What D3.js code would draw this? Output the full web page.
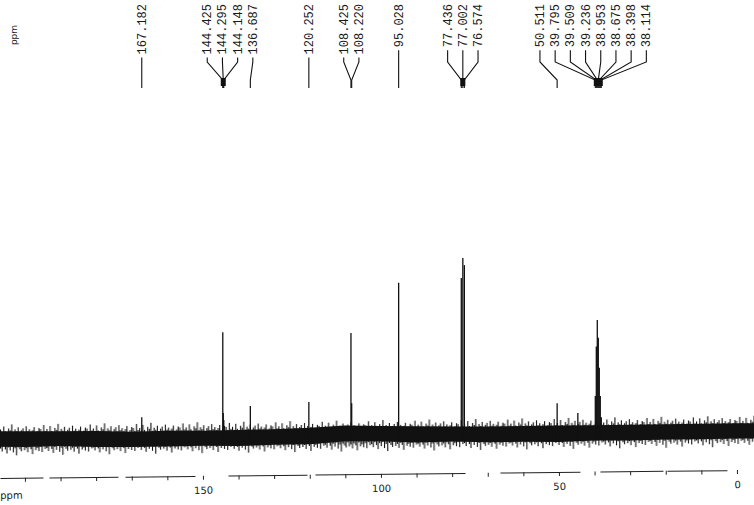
<!DOCTYPE html>
<html>
<head>
<meta charset="utf-8">
<script src="https://cdn.jsdelivr.net/npm/d3@7"></script>
<style>
  body { margin: 0; background: #fff; }
  .peaklabel { font-family: "Liberation Mono", monospace; font-size: 12px; fill: #1a1a1a; }
  .tick text, .unit { font-family: "DejaVu Sans", sans-serif; font-size: 10px; fill: #222; }
</style>
</head>
<body>
<svg id="spec" width="754" height="505"></svg>
<script>
// labelled peaks (ppm, height relative to tallest = 100)
const peakPpm    = [167.182, 144.425, 144.295, 144.148, 136.687, 120.252, 108.425, 108.220, 95.028,
                    77.436, 77.002, 76.574, 50.511, 39.795, 39.509, 39.236, 38.953, 38.675, 38.398, 38.114];
const peakHeight = [10, 58, 12.5, 8.5, 16.4, 18.6, 57.6, 18, 86,
                    88.7, 100, 96, 18, 22, 50, 65, 55, 38, 22, 10];
const peakLabel  = ["167.182", "144.425", "144.295", "144.148", "136.687", "120.252", "108.425", "108.220", "95.028",
                    "77.436", "77.002", "76.574", "50.511", "39.795", "39.509", "39.236", "38.953", "38.675", "38.398", "38.114"];

// small peak without a label
const extraPpm = [44.7];
const extraHeight = [12.4];

// baseline noise band read every 10 ppm
const noisePpm  = [210, 200, 190, 180, 170, 160, 150, 140, 130, 120, 110, 100, 90, 80, 70, 60, 50, 40, 30, 20, 10, 0, -10];
const noiseBase = [-2, -2, -1.8, -2, -2.2, -1.8, -1.6, -1.4, -0.9, -0.3, 1.2, 1.0, 0.6, 0.8, 0.6, 0.9, 1.0, 1.5, 1.6, 2.0, 2.2, 2.6, 2.6];
const noiseAmp  = [7.5, 7.6, 7.2, 7.8, 7.4, 7.6, 7.3, 7.8, 7.5, 7.9, 7.6, 7.4, 7.8, 7.2, 7.6, 7.5, 7.9, 7.4, 7.6, 7.3, 7.5, 7.4, 7.4];

// axis
const tickValues = d3.range(200, -1, -10);
const labelTicks = [150, 100, 50, 0];

const width = 754, height = 505;
const svg = d3.select("#spec");

const x = d3.scaleLinear().domain([207.0, -4.78]).range([0, width]);
const y = d3.scaleLinear().domain([0, 100]).range([435, 258]);

const noise = noisePpm.map((p, i) => ({ p: p, b: noiseBase[i], a: noiseAmp[i] }));

// grass texture for the ragged edge of the noise band (tile centred on the baseline)
const grassUp   = [10, 7, 13, 8, 6, 11, 9, 15, 7, 10, 8, 12, 6, 9, 11, 7, 13, 8, 10, 7, 9, 12, 6, 8, 11, 10, 7, 14, 8];
const grassDown = [9, 12, 7, 10, 14, 8, 11, 7, 13, 9, 16, 8, 10, 12, 7, 11, 9, 13, 8, 10, 15, 7, 11, 9, 12, 8, 13, 7, 10];
const step = 1.6, tileH = 40, mid = 20;
const y0px = y(noiseBase[0]) + 1, y1px = y(noiseBase[noiseBase.length - 1]);
const skew = Math.atan((y1px - y0px) / (x(noisePpm[noisePpm.length - 1]) - x(noisePpm[0]))) * 180 / Math.PI;

const defs = svg.append("defs");
const pat = defs.append("pattern")
    .attr("id", "grass")
    .attr("patternUnits", "userSpaceOnUse")
    .attr("width", grassUp.length * step).attr("height", tileH)
    .attr("patternTransform", `translate(0,${y0px - mid}) skewY(${skew})`);
pat.selectAll("rect")
  .data(grassUp)
  .join("rect")
    .attr("x", (d, i) => i * step)
    .attr("y", (d, i) => mid - d)
    .attr("width", 1.1)
    .attr("height", (d, i) => d + grassDown[i])
    .attr("fill", "#111");

const outer = d3.area()
    .x(d => x(d.p))
    .y0(d => y(d.b - 12))
    .y1(d => y(d.b + 12));
const core = d3.area()
    .x(d => x(d.p))
    .y0(d => y(d.b - d.a * 0.62))
    .y1(d => y(d.b + d.a * 0.55));

svg.append("path").datum(noise).attr("d", outer).attr("fill", "url(#grass)");
svg.append("path").datum(noise).attr("d", core).attr("fill", "#111");

// peaks
const peaks = peakPpm.map((p, i) => ({ p: p, h: peakHeight[i], label: peakLabel[i] }));
const allSticks = peaks.concat(extraPpm.map((p, i) => ({ p: p, h: extraHeight[i] })));

svg.append("g").selectAll("line")
  .data(allSticks)
  .join("line")
    .attr("x1", d => x(d.p)).attr("x2", d => x(d.p))
    .attr("y1", y(-2))
    .attr("y2", d => y(d.h))
    .attr("stroke", "#111")
    .attr("stroke-width", 1.3);

// label placement: spread labels so they don't overlap
const gap = 15.2;
let clusters = peaks.map((d, i) => ({ idx: [i], target: x(d.p) }))
  .sort((a, b) => a.target - b.target);
function place(c) {
  const mean = d3.mean(c.idx, i => x(peaks[i].p));
  c.first = mean - (c.idx.length - 1) * gap / 2;
  c.last = c.first + (c.idx.length - 1) * gap;
}
clusters.forEach(place);
let merged = true;
while (merged) {
  merged = false;
  for (let k = 0; k < clusters.length - 1; k++) {
    if (clusters[k].last + gap > clusters[k + 1].first) {
      clusters[k].idx = clusters[k].idx.concat(clusters[k + 1].idx);
      clusters.splice(k + 1, 1);
      place(clusters[k]);
      merged = true;
      break;
    }
  }
}
clusters.forEach(c => {
  c.idx.sort((a, b) => x(peaks[a].p) - x(peaks[b].p));
  c.idx.forEach((i, j) => { peaks[i].lx = c.first + j * gap; });
});

const lab = svg.append("g");
peaks.forEach(d => {
  const t = lab.append("text")
      .attr("class", "peaklabel")
      .attr("text-anchor", "end")
      .attr("transform", `translate(${d.lx + 4},4) rotate(-90)`)
      .text(d.label);
  const yb = 4 + t.node().getComputedTextLength() + 3;
  const px = x(d.p);
  const knee = Math.max(yb + 2, 62);
  lab.append("path")
      .attr("d", `M${d.lx},${yb} L${d.lx},${knee} L${px},80 L${px},88`)
      .attr("fill", "none")
      .attr("stroke", "#111")
      .attr("stroke-width", 1.1);
});

// dense multiplets get the solid block where the leaders meet
const groups = [];
peaks.forEach(d => {
  const g = groups[groups.length - 1];
  if (g && Math.abs(g[g.length - 1].p - d.p) < 1.0) g.push(d); else groups.push([d]);
});
groups.filter(g => g.length >= 3).forEach(g => {
  const cx = d3.mean(g, d => x(d.p));
  const w = g.length + 2;
  lab.append("rect")
      .attr("x", cx - w / 2).attr("y", 78)
      .attr("width", w).attr("height", 8)
      .attr("fill", "#111");
});

// ppm unit at top left
svg.append("text")
    .attr("class", "unit")
    .attr("text-anchor", "middle")
    .attr("transform", "translate(17,35) rotate(-90)")
    .style("font-size", "9px")
    .text("ppm");

// x axis (scan is slightly tilted)
const axis = svg.append("g")
    .attr("transform", "translate(0,478) rotate(-0.62)")
    .call(d3.axisBottom(x)
      .tickValues(tickValues)
      .tickSize(4)
      .tickSizeOuter(0)
      .tickPadding(7)
      .tickFormat(d => labelTicks.includes(d) ? d : ""));
axis.select(".domain")
    .attr("stroke", "#222")
    .attr("stroke-dasharray", "43,6,69,7,70,33,79,8,150,35,80,20,63,4,60,40");
axis.selectAll(".tick line").attr("stroke", "#222");
axis.append("text")
    .attr("class", "unit")
    .attr("x", 0).attr("y", 21)
    .attr("text-anchor", "start")
    .text("ppm");
</script>
</body>
</html>
